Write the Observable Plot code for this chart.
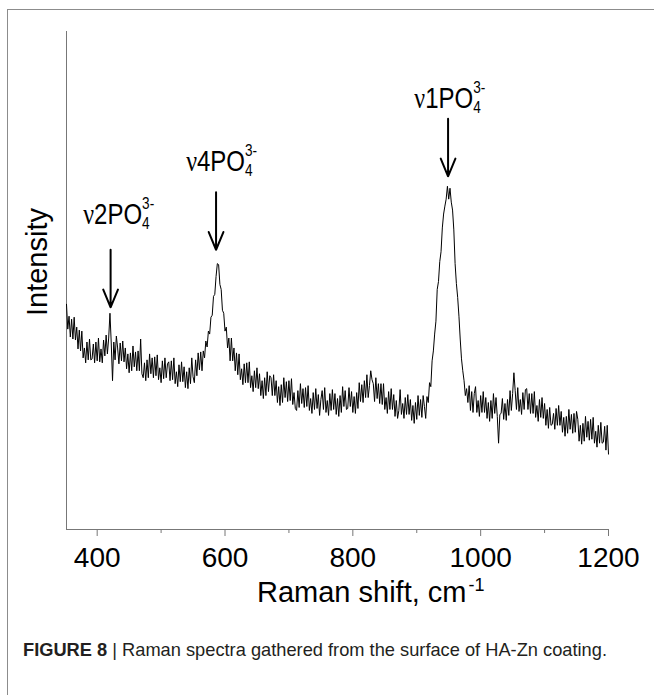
<!DOCTYPE html>
<html><head><meta charset="utf-8">
<script src="https://cdn.jsdelivr.net/npm/d3@7"></script>
<script src="https://cdn.jsdelivr.net/npm/@observablehq/plot@0.6"></script>
<style>
body{margin:0;background:#fff;width:654px;height:695px;overflow:hidden;position:relative;font-family:"Liberation Sans",Arial,sans-serif}
#frame{position:absolute;left:7px;top:9px;width:660px;height:700px;border-left:1px solid #8c8c8c;border-top:1px solid #8c8c8c}
#chart{position:absolute;left:0;top:0}
#caption{position:absolute;left:23px;top:640px;font-size:19px;line-height:1;color:#231f20;white-space:nowrap;transform-origin:left top}
</style></head><body>
<div id="frame"></div>
<div id="chart"></div>
<div id="caption"><span id="captext"><b>FIGURE 8</b> | Raman spectra gathered from the surface of HA-Zn coating.</span></div>
<script>
// Raman shift (cm^-1)
const shift = [
352,354,356,358,360,362,364,366,368,370,372,374,376,378,380,382,384,386,388,390,
392,394,396,398,400,402,404,406,408,410,412,414,416,418,420,422,424,426,428,430,
432,434,436,438,440,442,444,446,448,450,452,454,456,458,460,462,464,466,468,470,
472,474,476,478,480,482,484,486,488,490,492,494,496,498,500,502,504,506,508,510,
512,514,516,518,520,522,524,526,528,530,532,534,536,538,540,542,544,546,548,550,
552,554,556,558,560,562,564,566,568,570,572,574,576,578,580,582,584,586,588,590,
592,594,596,598,600,602,604,606,608,610,612,614,616,618,620,622,624,626,628,630,
632,634,636,638,640,642,644,646,648,650,652,654,656,658,660,662,664,666,668,670,
672,674,676,678,680,682,684,686,688,690,692,694,696,698,700,702,704,706,708,710,
712,714,716,718,720,722,724,726,728,730,732,734,736,738,740,742,744,746,748,750,
752,754,756,758,760,762,764,766,768,770,772,774,776,778,780,782,784,786,788,790,
792,794,796,798,800,802,804,806,808,810,812,814,816,818,820,822,824,826,828,830,
832,834,836,838,840,842,844,846,848,850,852,854,856,858,860,862,864,866,868,870,
872,874,876,878,880,882,884,886,888,890,892,894,896,898,900,902,904,906,908,910,
912,914,916,918,920,922,924,926,928,930,932,934,936,938,940,942,944,946,948,950,
952,954,956,958,960,962,964,966,968,970,972,974,976,978,980,982,984,986,988,990,
992,994,996,998,1000,1002,1004,1006,1008,1010,1012,1014,1016,1018,1020,1022,1024,1026,1028,1030,
1032,1034,1036,1038,1040,1042,1044,1046,1048,1050,1052,1054,1056,1058,1060,1062,1064,1066,1068,1070,
1072,1074,1076,1078,1080,1082,1084,1086,1088,1090,1092,1094,1096,1098,1100,1102,1104,1106,1108,1110,
1112,1114,1116,1118,1120,1122,1124,1126,1128,1130,1132,1134,1136,1138,1140,1142,1144,1146,1148,1150,
1152,1154,1156,1158,1160,1162,1164,1166,1168,1170,1172,1174,1176,1178,1180,1182,1184,1186,1188,1190,
1192,1194,1196,1198,1200];
// Intensity (arbitrary units)
const intensity = [
227,202,215,194,212,192,214,191,204,182,201,180,200,173,183,168,189,171,192,171,
172,187,168,189,170,193,169,182,168,191,175,196,177,193,218,188,150,189,171,195,
183,167,188,170,190,169,183,162,177,158,178,160,185,164,179,160,180,160,192,157,
153,168,150,171,153,177,157,173,153,174,155,176,151,163,148,170,152,173,153,167,
169,150,170,151,173,147,159,144,166,149,169,149,164,143,159,142,163,147,173,154,
148,171,155,178,161,179,160,180,173,190,184,200,197,214,216,235,237,255,268,267,
247,242,221,218,200,204,183,193,170,193,170,183,160,178,156,177,151,162,146,167,
148,168,148,169,143,155,139,160,143,163,142,157,135,150,132,153,135,159,139,155,
153,135,156,135,150,128,144,125,146,128,153,133,149,129,150,130,152,126,138,122,
120,140,123,147,127,142,123,143,124,145,120,132,117,138,121,142,122,136,115,131,
140,121,143,118,130,115,137,120,141,121,137,116,132,114,135,118,144,124,140,121,
122,143,124,139,118,134,117,138,122,148,129,146,128,150,133,156,133,145,160,151,
147,129,153,132,147,127,147,126,147,121,133,117,139,121,142,121,136,114,130,112,
120,141,116,127,112,133,116,136,116,131,110,125,107,128,111,135,115,131,113,135,
124,112,134,128,148,144,170,180,197,210,242,250,270,280,304,318,326,333,346,333,
344,330,322,302,268,248,234,215,192,172,160,150,135,142,128,145,120,139,118,137,
144,118,130,114,135,118,139,118,133,112,128,109,130,112,137,117,133,114,87,116,
117,132,111,127,110,131,115,140,120,137,158,140,121,143,119,131,116,138,121,141,
142,121,137,117,137,117,139,113,125,109,131,113,133,112,127,105,121,102,123,105,
106,117,101,122,105,125,105,119,98,113,94,114,97,121,101,116,97,117,98,119,
111,89,105,86,107,89,114,93,109,90,111,91,113,87,99,83,105,87,108,87,
88,104,80,105,76];

const xTicks = [400, 600, 800, 1000, 1200];
const xMinorTicks = [500, 700, 900, 1100];

// peak annotations
const peakModes = ["2", "4", "1"];
const peakShift = [421, 586, 949];
const arrowTop = [282, 340, 414];
const arrowTip = [224, 282, 356];
const labelShift = [379, 540, 897];
const labelLevel = [307, 361, 424];

const data = shift.map((s, i) => ({shift: s, intensity: intensity[i]}));
const peaks = peakShift.map((s, i) => ({
  mode: peakModes[i], shift: s, top: arrowTop[i], tip: arrowTip[i],
  lx: labelShift[i], ly: labelLevel[i]
}));

const axisColor = "#777";
const plot = Plot.plot({
  width: 654,
  height: 615,
  marginLeft: 66,
  marginRight: 46,
  marginTop: 31,
  marginBottom: 86,
  x: {domain: [352, 1200]},
  y: {domain: [0, 502], axis: null},
  style: {fontFamily: "'Liberation Sans', Arial, sans-serif", background: "transparent", color: "#000"},
  marks: [
    Plot.axisX(xTicks, {tickSize: 7, tickPadding: 11, fontSize: 28, stroke: axisColor, fill: "#000", label: null, tickFormat: d => String(d)}),
    Plot.axisX(xMinorTicks, {tickSize: 4, stroke: axisColor, fill: "none", label: null}),
    Plot.ruleY([0], {stroke: axisColor}),
    Plot.ruleX([352], {stroke: axisColor}),
    Plot.line(data, {x: "shift", y: "intensity", stroke: "#000", strokeWidth: 1}),
    Plot.arrow(peaks, {x1: "shift", x2: "shift", y1: "top", y2: "tip", stroke: "#000", strokeWidth: 2, headLength: 15, headAngle: 45})
  ]
});
document.getElementById("chart").appendChild(plot);

const sx = plot.scale("x"), sy = plot.scale("y");
const svg = d3.select(plot);

// peak labels: ν n PO4 3-
peaks.forEach(p => {
  const t = svg.append("text")
    .attr("transform", `translate(${sx.apply(p.lx)},${sy.apply(p.ly)}) scale(0.8,1)`)
    .attr("text-anchor", "start")
    .attr("fill", "#000")
    .attr("font-family", "'Liberation Sans', Arial, sans-serif")
    .attr("font-size", 30);
  t.append("tspan").attr("font-family", "'Liberation Serif', 'DejaVu Serif', serif").attr("font-size", 30).text("ν");
  t.append("tspan").text(p.mode + "PO");
  t.append("tspan").attr("font-size", 17).attr("dy", 5).text("4");
  t.append("tspan").attr("font-size", 17).attr("dx", -9.5).attr("dy", -20).text("3-");
});

// axis titles
const xt = svg.append("text")
  .attr("x", 257).attr("y", 602)
  .attr("text-anchor", "start")
  .attr("font-size", 29).attr("fill", "#000")
  .attr("font-family", "'Liberation Sans', Arial, sans-serif");
xt.append("tspan").text("Raman shift, cm");
xt.append("tspan").attr("font-size", 18).attr("dx", 2).attr("dy", -11).text("-1");

svg.append("text")
  .attr("transform", "translate(47,262) rotate(-90)")
  .attr("text-anchor", "middle")
  .attr("font-size", 29).attr("fill", "#000")
  .attr("font-family", "'Liberation Sans', Arial, sans-serif")
  .text("Intensity");

// fit caption to width of the reference
const cap = document.getElementById("captext");
const w = cap.getBoundingClientRect().width;
document.getElementById("caption").style.transform = `scaleX(${584 / w})`;
</script>
</body></html>
